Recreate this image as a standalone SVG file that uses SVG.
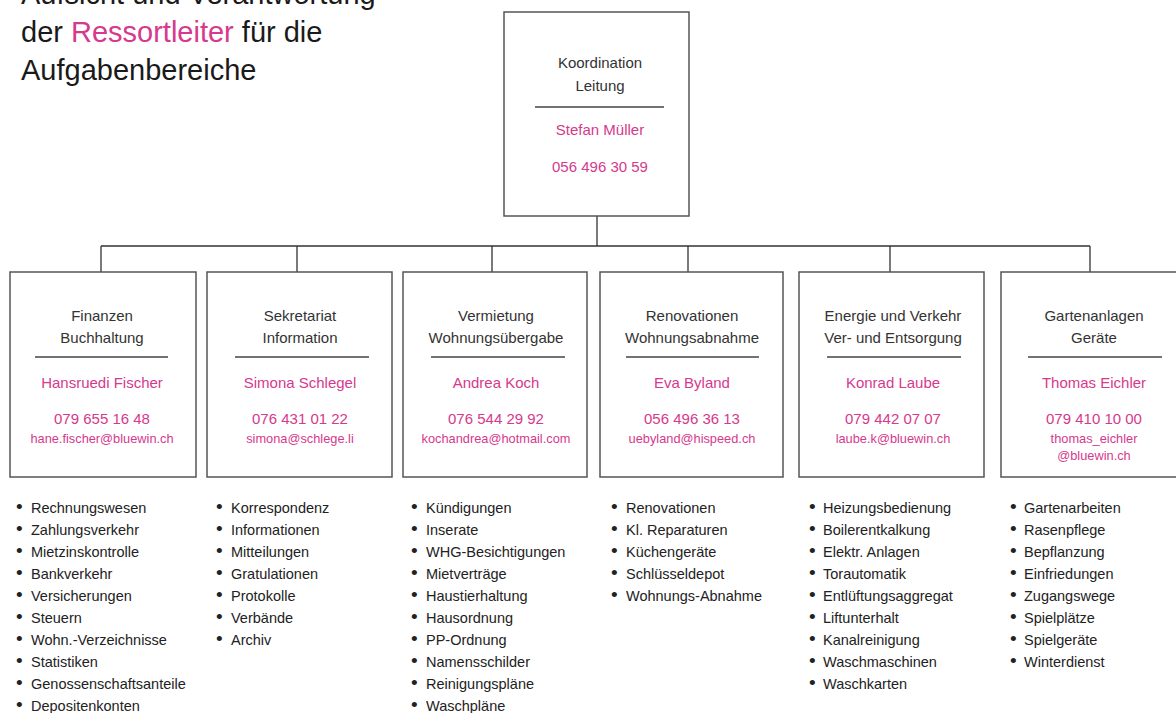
<svg xmlns="http://www.w3.org/2000/svg" width="1176" height="713" viewBox="0 0 1176 713">
<style>
.title{font-family:"Liberation Sans",Arial,sans-serif;font-size:29px;fill:#1a1a1a}
.pink{fill:#d6398d}
.box{fill:#fff;stroke:#555;stroke-width:1.5}
.sep{stroke:#444;stroke-width:1.3}
.hd{font-family:"Liberation Sans",Arial,sans-serif;font-size:15px;fill:#333;text-anchor:middle}
.nm{font-family:"Liberation Sans",Arial,sans-serif;font-size:15px;fill:#d6398d;text-anchor:middle}
.em{font-family:"Liberation Sans",Arial,sans-serif;font-size:12.8px;fill:#d6398d;text-anchor:middle}
.li{font-family:"Liberation Sans",Arial,sans-serif;font-size:14.5px;fill:#222}
.li tspan:first-child{font-size:19px}
.con{stroke:#333;stroke-width:1.3;fill:none}
</style>
<rect width="1176" height="713" fill="#fff"/>
<g id="title">
<text class="title" x="21" y="4">Aufsicht und Verantwortung</text>
<text class="title" x="21" y="42">der <tspan class="pink">Ressortleiter</tspan> für die</text>
<text class="title" x="21" y="80">Aufgabenbereiche</text>
</g>
<g id="connectors">
<path class="con" d="M597 216V246M101 246H1090M101 246V272M297 246V272M492 246V272M688 246V272M890 246V272M1090 246V272"/>
</g>
<g id="leitung">
<rect class="box" x="504" y="12" width="185" height="204"/>
<text class="hd" x="600" y="68">Koordination</text>
<text class="hd" x="600" y="91">Leitung</text>
<line class="sep" x1="535" y1="107" x2="664" y2="107"/>
<text class="nm" x="600" y="135">Stefan Müller</text>
<text class="nm" x="600" y="172">056 496 30 59</text>
</g>
<g id="finanzen">
<rect class="box" x="10" y="272" width="186" height="205"/>
<text class="hd" x="102" y="321">Finanzen</text>
<text class="hd" x="102" y="343">Buchhaltung</text>
<line class="sep" x1="35" y1="357" x2="168" y2="357"/>
<text class="nm" x="102" y="388">Hansruedi Fischer</text>
<text class="nm" x="102" y="424">079 655 16 48</text>
<text class="em" x="102" y="443">hane.fischer@bluewin.ch</text>
</g>
<g id="sekretariat">
<rect class="box" x="207" y="272" width="185" height="205"/>
<text class="hd" x="300" y="321">Sekretariat</text>
<text class="hd" x="300" y="343">Information</text>
<line class="sep" x1="235" y1="357" x2="369" y2="357"/>
<text class="nm" x="300" y="388">Simona Schlegel</text>
<text class="nm" x="300" y="424">076 431 01 22</text>
<text class="em" x="300" y="443">simona@schlege.li</text>
</g>
<g id="vermietung">
<rect class="box" x="403" y="272" width="184" height="205"/>
<text class="hd" x="496" y="321">Vermietung</text>
<text class="hd" x="496" y="343">Wohnungsübergabe</text>
<line class="sep" x1="431" y1="357" x2="565" y2="357"/>
<text class="nm" x="496" y="388">Andrea Koch</text>
<text class="nm" x="496" y="424">076 544 29 92</text>
<text class="em" x="496" y="443">kochandrea@hotmail.com</text>
</g>
<g id="renovationen">
<rect class="box" x="600" y="272" width="183" height="205"/>
<text class="hd" x="692" y="321">Renovationen</text>
<text class="hd" x="692" y="343">Wohnungsabnahme</text>
<line class="sep" x1="626" y1="357" x2="759" y2="357"/>
<text class="nm" x="692" y="388">Eva Byland</text>
<text class="nm" x="692" y="424">056 496 36 13</text>
<text class="em" x="692" y="443">uebyland@hispeed.ch</text>
</g>
<g id="energie">
<rect class="box" x="799" y="272" width="185" height="205"/>
<text class="hd" x="893" y="321">Energie und Verkehr</text>
<text class="hd" x="893" y="343">Ver- und Entsorgung</text>
<line class="sep" x1="827" y1="357" x2="961" y2="357"/>
<text class="nm" x="893" y="388">Konrad Laube</text>
<text class="nm" x="893" y="424">079 442 07 07</text>
<text class="em" x="893" y="443">laube.k@bluewin.ch</text>
</g>
<g id="garten">
<rect class="box" x="1001" y="272" width="186" height="205"/>
<text class="hd" x="1094" y="321">Gartenanlagen</text>
<text class="hd" x="1094" y="343">Geräte</text>
<line class="sep" x1="1028" y1="357" x2="1162" y2="357"/>
<text class="nm" x="1094" y="388">Thomas Eichler</text>
<text class="nm" x="1094" y="424">079 410 10 00</text>
<text class="em" x="1094" y="443">thomas_eichler</text>
<text class="em" x="1094" y="460">@bluewin.ch</text>
</g>
<g id="liste-finanzen" class="li">
<text y="513"><tspan x="16">•</tspan><tspan x="31">Rechnungswesen</tspan></text>
<text y="535"><tspan x="16">•</tspan><tspan x="31">Zahlungsverkehr</tspan></text>
<text y="557"><tspan x="16">•</tspan><tspan x="31">Mietzinskontrolle</tspan></text>
<text y="579"><tspan x="16">•</tspan><tspan x="31">Bankverkehr</tspan></text>
<text y="601"><tspan x="16">•</tspan><tspan x="31">Versicherungen</tspan></text>
<text y="623"><tspan x="16">•</tspan><tspan x="31">Steuern</tspan></text>
<text y="645"><tspan x="16">•</tspan><tspan x="31">Wohn.-Verzeichnisse</tspan></text>
<text y="667"><tspan x="16">•</tspan><tspan x="31">Statistiken</tspan></text>
<text y="689"><tspan x="16">•</tspan><tspan x="31">Genossenschaftsanteile</tspan></text>
<text y="711"><tspan x="16">•</tspan><tspan x="31">Depositenkonten</tspan></text>
</g>
<g id="liste-sekretariat" class="li">
<text y="513"><tspan x="216">•</tspan><tspan x="231">Korrespondenz</tspan></text>
<text y="535"><tspan x="216">•</tspan><tspan x="231">Informationen</tspan></text>
<text y="557"><tspan x="216">•</tspan><tspan x="231">Mitteilungen</tspan></text>
<text y="579"><tspan x="216">•</tspan><tspan x="231">Gratulationen</tspan></text>
<text y="601"><tspan x="216">•</tspan><tspan x="231">Protokolle</tspan></text>
<text y="623"><tspan x="216">•</tspan><tspan x="231">Verbände</tspan></text>
<text y="645"><tspan x="216">•</tspan><tspan x="231">Archiv</tspan></text>
</g>
<g id="liste-vermietung" class="li">
<text y="513"><tspan x="411">•</tspan><tspan x="426">Kündigungen</tspan></text>
<text y="535"><tspan x="411">•</tspan><tspan x="426">Inserate</tspan></text>
<text y="557"><tspan x="411">•</tspan><tspan x="426">WHG-Besichtigungen</tspan></text>
<text y="579"><tspan x="411">•</tspan><tspan x="426">Mietverträge</tspan></text>
<text y="601"><tspan x="411">•</tspan><tspan x="426">Haustierhaltung</tspan></text>
<text y="623"><tspan x="411">•</tspan><tspan x="426">Hausordnung</tspan></text>
<text y="645"><tspan x="411">•</tspan><tspan x="426">PP-Ordnung</tspan></text>
<text y="667"><tspan x="411">•</tspan><tspan x="426">Namensschilder</tspan></text>
<text y="689"><tspan x="411">•</tspan><tspan x="426">Reinigungspläne</tspan></text>
<text y="711"><tspan x="411">•</tspan><tspan x="426">Waschpläne</tspan></text>
</g>
<g id="liste-renovationen" class="li">
<text y="513"><tspan x="611">•</tspan><tspan x="626">Renovationen</tspan></text>
<text y="535"><tspan x="611">•</tspan><tspan x="626">Kl. Reparaturen</tspan></text>
<text y="557"><tspan x="611">•</tspan><tspan x="626">Küchengeräte</tspan></text>
<text y="579"><tspan x="611">•</tspan><tspan x="626">Schlüsseldepot</tspan></text>
<text y="601"><tspan x="611">•</tspan><tspan x="626">Wohnungs-Abnahme</tspan></text>
</g>
<g id="liste-energie" class="li">
<text y="513"><tspan x="809">•</tspan><tspan x="823">Heizungsbedienung</tspan></text>
<text y="535"><tspan x="809">•</tspan><tspan x="823">Boilerentkalkung</tspan></text>
<text y="557"><tspan x="809">•</tspan><tspan x="823">Elektr. Anlagen</tspan></text>
<text y="579"><tspan x="809">•</tspan><tspan x="823">Torautomatik</tspan></text>
<text y="601"><tspan x="809">•</tspan><tspan x="823">Entlüftungsaggregat</tspan></text>
<text y="623"><tspan x="809">•</tspan><tspan x="823">Liftunterhalt</tspan></text>
<text y="645"><tspan x="809">•</tspan><tspan x="823">Kanalreinigung</tspan></text>
<text y="667"><tspan x="809">•</tspan><tspan x="823">Waschmaschinen</tspan></text>
<text y="689"><tspan x="809">•</tspan><tspan x="823">Waschkarten</tspan></text>
</g>
<g id="liste-garten" class="li">
<text y="513"><tspan x="1010">•</tspan><tspan x="1024">Gartenarbeiten</tspan></text>
<text y="535"><tspan x="1010">•</tspan><tspan x="1024">Rasenpflege</tspan></text>
<text y="557"><tspan x="1010">•</tspan><tspan x="1024">Bepflanzung</tspan></text>
<text y="579"><tspan x="1010">•</tspan><tspan x="1024">Einfriedungen</tspan></text>
<text y="601"><tspan x="1010">•</tspan><tspan x="1024">Zugangswege</tspan></text>
<text y="623"><tspan x="1010">•</tspan><tspan x="1024">Spielplätze</tspan></text>
<text y="645"><tspan x="1010">•</tspan><tspan x="1024">Spielgeräte</tspan></text>
<text y="667"><tspan x="1010">•</tspan><tspan x="1024">Winterdienst</tspan></text>
</g>
</svg>
